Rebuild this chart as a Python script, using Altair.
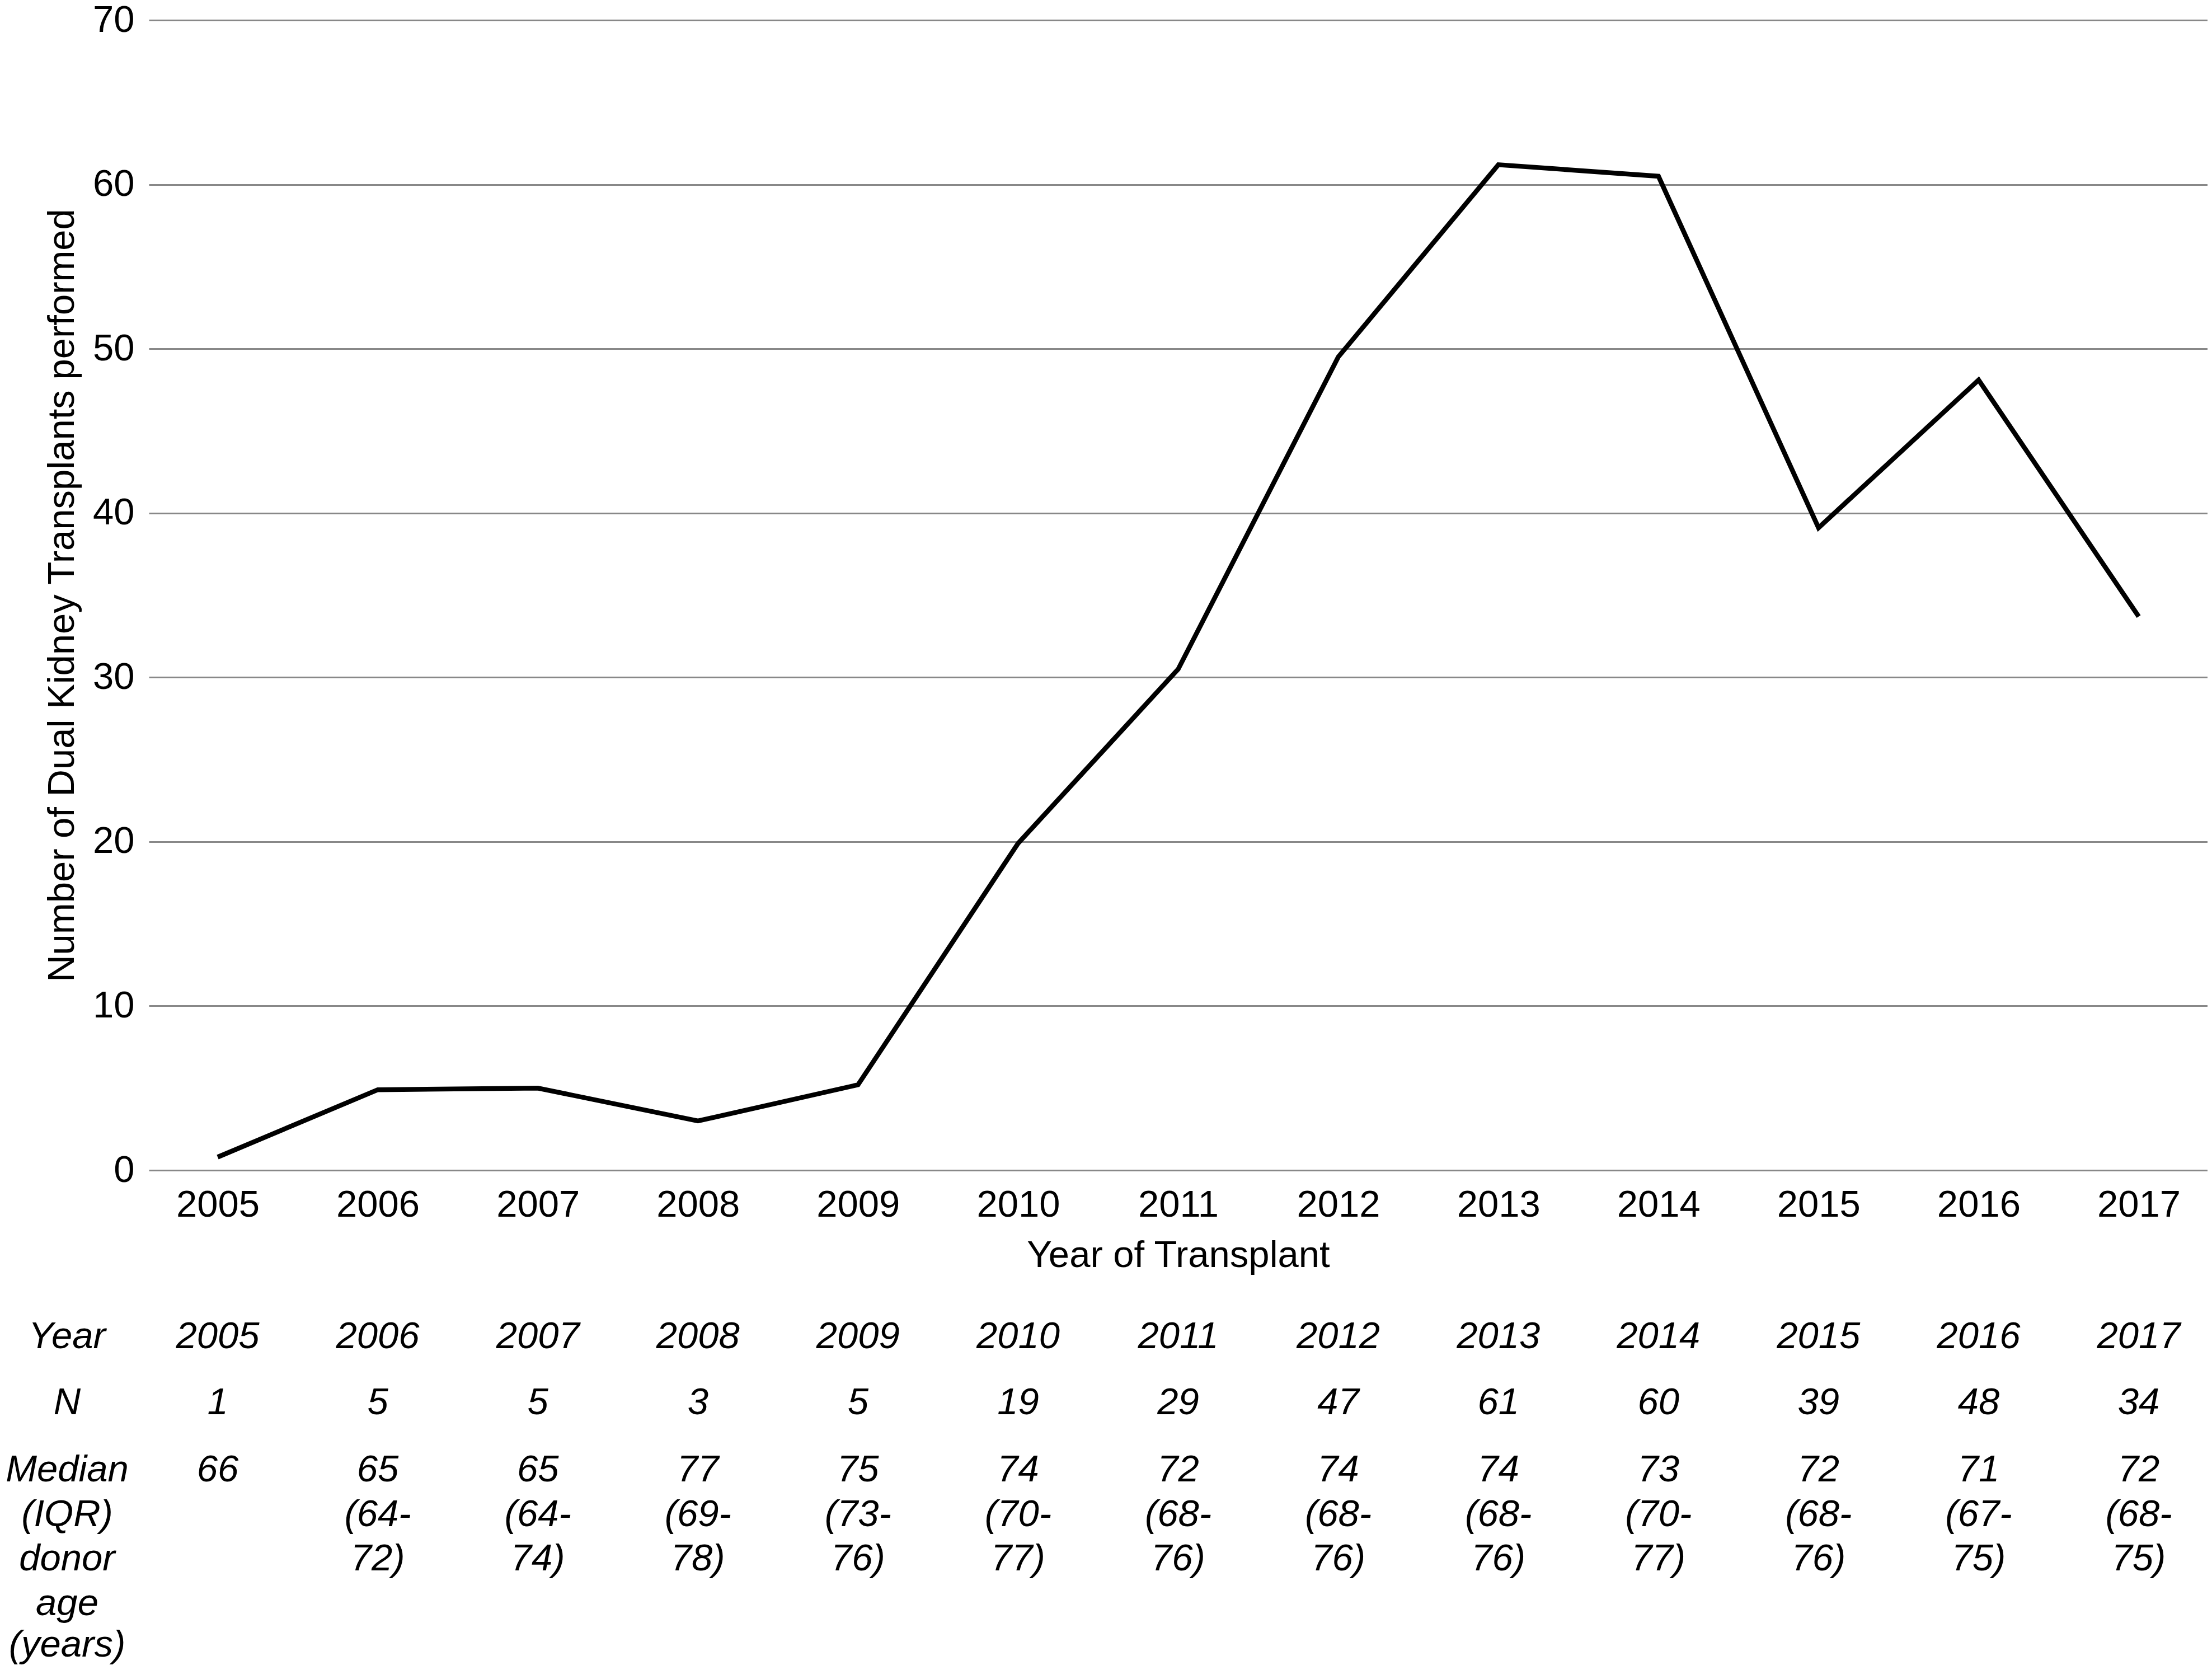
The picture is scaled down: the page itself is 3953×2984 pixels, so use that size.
import altair as alt
import pandas as pd

# ---- data ----
years = [str(y) for y in range(2005, 2018)]
transplants = [0.8, 4.9, 5.0, 3.0, 5.2, 19.9, 30.5, 49.5, 61.2, 60.5, 39.1, 48.1, 33.7]
n_counts = ["1", "5", "5", "3", "5", "19", "29", "47", "61", "60", "39", "48", "34"]
median_age = ["66", "65", "65", "77", "75", "74", "72", "74", "74", "73", "72", "71", "72"]
iqr_low = ["", "(64-", "(64-", "(69-", "(73-", "(70-", "(68-", "(68-", "(68-", "(70-", "(68-", "(67-", "(68-"]
iqr_high = ["", "72)", "74)", "78)", "76)", "77)", "76)", "76)", "76)", "77)", "76)", "75)", "75)"]
row_labels = ["Year", "N", "Median", "(IQR)", "donor", "age", "(years)"]

# ---- layout constants ----
FONT = "Liberation Sans"
FS = 67
ROW_BASELINE = [2373, 2491, 2611, 2691, 2770, 2850, 2924]  # baselines below plot top
LABEL_X = -146

df = pd.DataFrame({"year": years, "count": transplants})

xenc = alt.X(
    "year:O",
    sort=years,
    scale=alt.Scale(type="point", padding=0.43),
    axis=alt.Axis(
        title="Year of Transplant",
        labelAngle=0,
        ticks=False,
        domain=False,
        grid=False,
        labelPadding=29,
        titlePadding=24,
        labelFontSize=FS,
        titleFontSize=FS,
        labelFont=FONT,
        titleFont=FONT,
        labelColor="black",
        titleColor="black",
        titleFontWeight="normal",
    ),
)

line = alt.Chart(df).mark_line(color="black", strokeWidth=8.5, strokeJoin="miter").encode(
    x=xenc,
    y=alt.Y(
        "count:Q",
        scale=alt.Scale(domain=[0, 70], nice=False),
        axis=alt.Axis(
            values=[0, 10, 20, 30, 40, 50, 60, 70],
            title="Number of Dual Kidney Transplants performed",
            grid=True,
            gridColor="#888888",
            gridWidth=3,
            ticks=False,
            domain=False,
            labelPadding=26,
            titlePadding=20,
            labelFontSize=FS,
            titleFontSize=FS,
            labelFont=FONT,
            titleFont=FONT,
            labelColor="black",
            titleColor="black",
            titleFontWeight="normal",
        ),
    ),
)

layers = [line]

table_rows = [years, n_counts, median_age, iqr_low, iqr_high]
for i, vals in enumerate(table_rows):
    tdf = pd.DataFrame({"year": years, "txt": vals})
    layers.append(
        alt.Chart(tdf)
        .mark_text(font=FONT, fontSize=FS, fontStyle="italic", color="black",
                   align="center", baseline="alphabetic")
        .encode(x=alt.X("year:O", sort=years), y=alt.value(ROW_BASELINE[i]), text="txt:N")
    )

for i, lab in enumerate(row_labels):
    ldf = pd.DataFrame({"txt": [lab]})
    layers.append(
        alt.Chart(ldf)
        .mark_text(font=FONT, fontSize=FS, fontStyle="italic", color="black",
                   align="center", baseline="alphabetic")
        .encode(x=alt.value(LABEL_X), y=alt.value(ROW_BASELINE[i]), text="txt:N")
    )

chart = (
    alt.layer(*layers)
    .properties(
        width=3679,
        height=2055,
        autosize=alt.AutoSizeParams(type="none"),
        padding={"left": 258, "top": 28, "right": 0, "bottom": 885},
        background="white",
    )
    .configure_view(stroke=None)
)

chart.save("out.html", embed_options={"renderer": "svg", "actions": False})
